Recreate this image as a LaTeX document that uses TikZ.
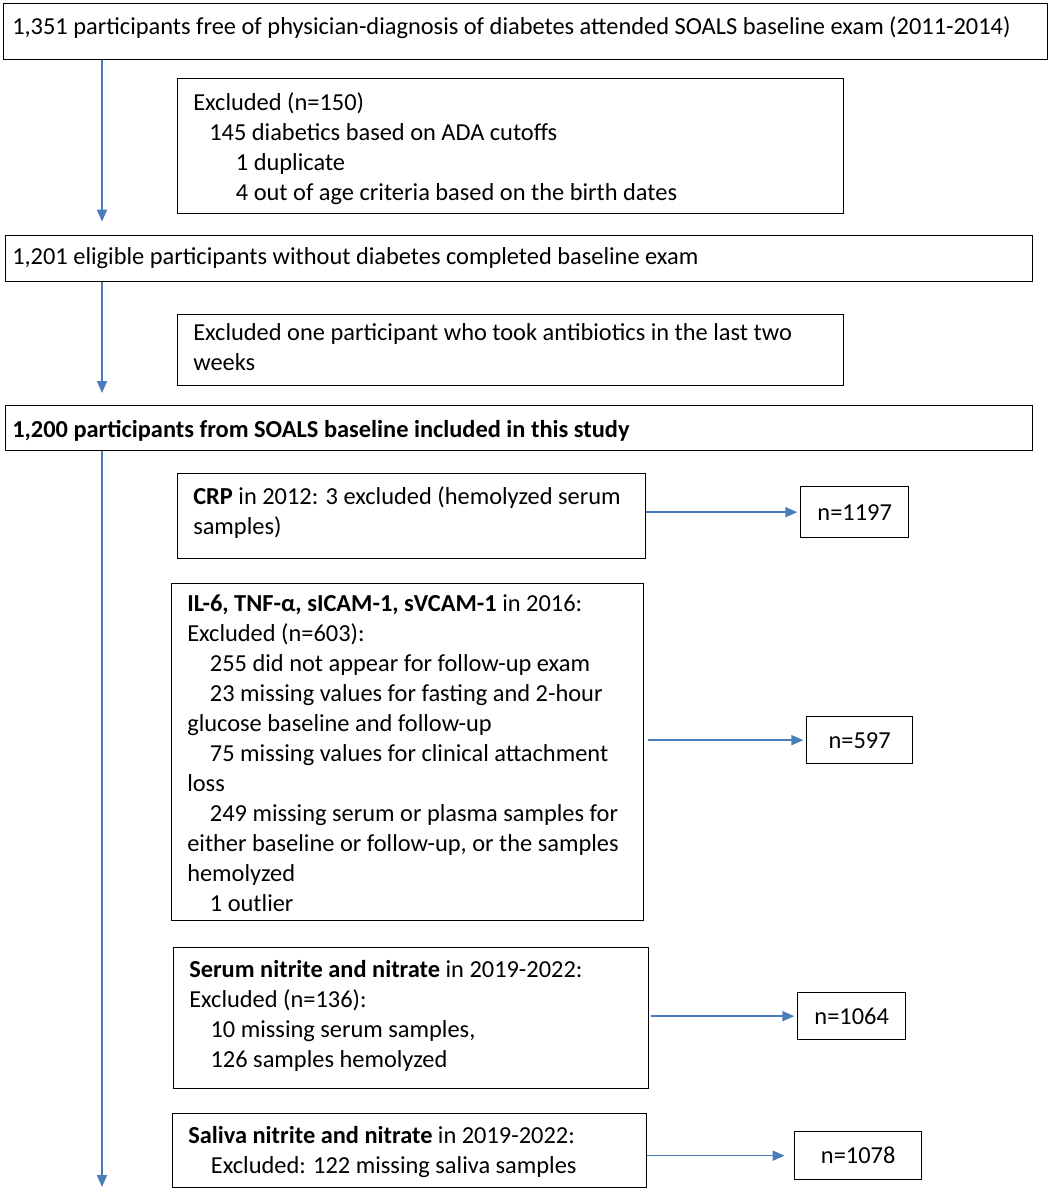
\documentclass[tikz,border=0pt]{standalone}
\usepackage{fontspec}
\setmainfont{Carlito}
\usetikzlibrary{arrows.meta}
\definecolor{flowblue}{RGB}{74,126,187}
\tikzset{
  box/.style={draw, line width=1pt, inner sep=0pt, anchor=north west},
  txt/.style={anchor=north west, inner sep=0pt, align=left},
  flow/.style={draw=flowblue, line width=1.2pt, -{Triangle[length=9pt,width=7.5pt]}}
}
\begin{document}
\begin{tikzpicture}[x=0.75pt,y=0.75pt,yscale=-1,xscale=1,font=\fontsize{18.3}{22.5}\selectfont]
        \useasboundingbox (0,0) rectangle (1052,1189);
        % Main boxes
        \node[box, minimum width=783pt, minimum height=42pt] (top) at (3,3) {};
        \node[txt] (topT) at (12,13) {\strut 1,351 participants free of physician-diagnosis of diabetes attended SOALS baseline exam (2011-2014)};
        \node[box, minimum width=499.5pt, minimum height=101.25pt] (exA) at (177,78) {};
        \node[txt] (exAT) at (193,89) {\strut Excluded (n=150)\\
          \hspace*{12pt}145 diabetics based on ADA cutoffs\\
          \hspace*{32pt}1 duplicate\\
          \hspace*{32pt}4 out of age criteria based on the birth dates};
        \node[box, minimum width=770.25pt, minimum height=34.5pt] (elig) at (5,235) {};
        \node[txt] (eligT) at (12,243) {\strut 1,201 eligible participants without diabetes completed baseline exam};
        \node[box, minimum width=499.5pt, minimum height=53.25pt] (exB) at (177,314) {};
        \node[txt] (exBT) at (193,319) {\strut Excluded one participant who took antibiotics in the last two\\weeks};
        \node[box, minimum width=770.25pt, minimum height=33.75pt] (incl) at (5,405) {};
        \node[txt, font=\fontsize{18.3}{22.5}\selectfont\bfseries] (inclT) at (12,416) {\strut 1,200 participants from SOALS baseline included in this study};
        % Biomarker boxes
        \node[box, minimum width=351pt, minimum height=63.75pt] (crp) at (177,473) {};
        \node[txt] (crpT) at (193,483) {\strut\textbf{CRP} in 2012: 3 excluded (hemolyzed serum\\samples)};
        \node[box, minimum width=354pt, minimum height=252.75pt] (il) at (171,583) {};
        \node[txt] (ilT) at (187,590) {\strut\textbf{IL-6, TNF-α, sICAM-1, sVCAM-1} in 2016:\\
          Excluded (n=603):\\
          \hspace*{17pt}255 did not appear for follow-up exam\\
          \hspace*{17pt}23 missing values for fasting and 2-hour\\
          glucose baseline and follow-up\\
          \hspace*{17pt}75 missing values for clinical attachment\\
          loss\\
          \hspace*{17pt}249 missing serum or plasma samples for\\
          either baseline or follow-up, or the samples\\
          hemolyzed\\
          \hspace*{17pt}1 outlier};
        \node[box, minimum width=356.25pt, minimum height=105.75pt] (ser) at (173,947) {};
        \node[txt] (serT) at (189,956) {\strut\textbf{Serum nitrite and nitrate} in 2019-2022:\\
          Excluded (n=136):\\
          \hspace*{16pt}10 missing serum samples,\\
          \hspace*{16pt}126 samples hemolyzed};
        \node[box, minimum width=355.5pt, minimum height=55.5pt] (sal) at (172,1113) {};
        \node[txt] (salT) at (188,1122) {\strut\textbf{Saliva nitrite and nitrate} in 2019-2022:\\
          \hspace*{17pt}Excluded: 122 missing saliva samples};
        % Result boxes
        \node[box, minimum width=81pt, minimum height=38.25pt] (nA) at (800,486) {n=1197};
        \node[box, minimum width=79.5pt, minimum height=35.25pt] (nB) at (806,716) {n=597};
        \node[box, minimum width=81pt, minimum height=35.25pt] (nC) at (797,992) {n=1064};
        \node[box, minimum width=95.25pt, minimum height=36pt] (nD) at (794,1131) {n=1078};
        % Connectors
        \coordinate (spine) at (102,0);
        \coordinate (bottom) at (102,1187);
        \draw[flow, shorten >=10pt] (top.south -| spine) -- (elig.north -| spine);
        \draw[flow, shorten >=9pt] (elig.south -| spine) -- (incl.north -| spine);
        \draw[flow] (incl.south -| spine) -- (bottom);
        \draw[flow, shorten >=2pt] (nA.west -| crp.east) -- (nA.west);
        \draw[flow, shorten <=3pt, shorten >=2pt] (nB.west -| il.east) -- (nB.west);
        \draw[flow, shorten <=1pt, shorten >=2pt] (nC.west -| ser.east) -- (nC.west);
        \draw[flow, shorten >=7pt] (nD.west -| sal.east) -- (nD.west);
\end{tikzpicture}
\end{document}
